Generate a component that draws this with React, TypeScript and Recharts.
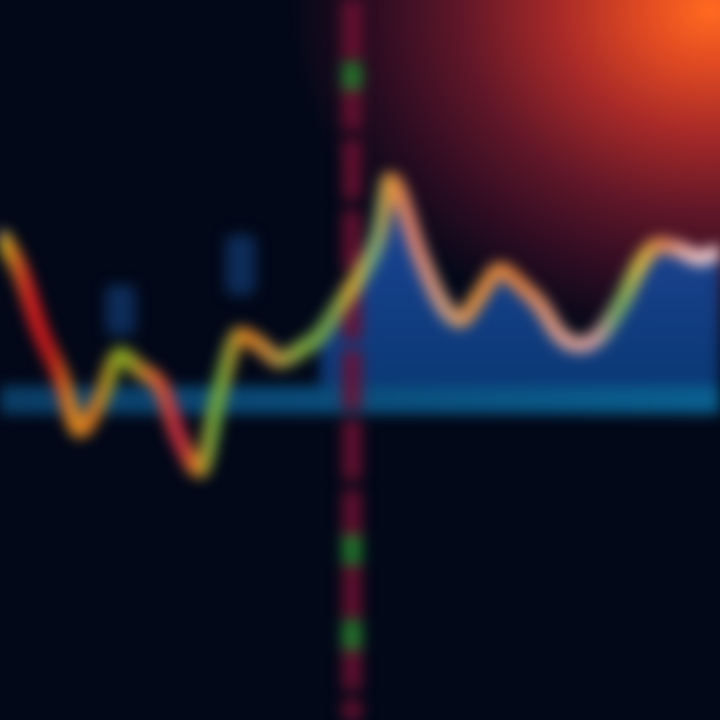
import { ComposedChart, Line, Area, Bar, XAxis, YAxis, ReferenceLine } from 'recharts';

// x positions of the samples and the price level at each one (0 = bottom, 720 = top)
const xs = [0, 20, 40, 60, 80, 100, 120, 140, 160, 180, 200, 220, 240, 260, 280, 300, 320, 340, 360, 380, 390, 420, 440, 460, 480, 500, 520, 540, 560, 580, 600, 620, 640, 660, 680, 700, 720];
const price = [485, 450, 390, 345, 290, 320, 365, 350, 335, 280, 250, 330, 385, 375, 360, 370, 385, 415, 445, 490, 540, 465, 420, 400, 425, 450, 435, 415, 385, 375, 385, 415, 455, 475, 470, 462, 470];
// index from which the blue fill starts
const fillFrom = 16;
// faint wicks: [index, low, high]
const wicks: [number, number, number][] = [
  [6, 385, 435],
  [12, 425, 485],
];
const baseLevel = 320;
const markerX = 352;

const data = xs.map((x, i) => {
  const w = wicks.find((k) => k[0] === i);
  return {
    x,
    price: price[i],
    fill: i >= fillFrom ? price[i] : null,
    wick: w ? [w[1], w[2]] : null,
  };
});

const lineStops: [number, string][] = [
  [0, '#d8d020'],
  [0.04, '#e02020'],
  [0.07, '#c81818'],
  [0.1, '#e09020'],
  [0.13, '#d07020'],
  [0.17, '#80b020'],
  [0.21, '#e07030'],
  [0.25, '#c02040'],
  [0.27, '#e08020'],
  [0.3, '#60b040'],
  [0.34, '#e08020'],
  [0.38, '#c09040'],
  [0.42, '#80b040'],
  [0.46, '#70a050'],
  [0.49, '#e0b030'],
  [0.52, '#70b080'],
  [0.54, '#e09030'],
  [0.57, '#e08070'],
  [0.62, '#d0a080'],
  [0.66, '#e09040'],
  [0.72, '#e08040'],
  [0.78, '#e0a090'],
  [0.83, '#d0a0a0'],
  [0.86, '#70b060'],
  [0.89, '#e0c040'],
  [0.92, '#e08050'],
  [0.96, '#f0c0c0'],
  [1, '#f0d0d0'],
];

const Wick = (props: any) => {
  const { x, y, width, height } = props;
  if (height == null || !width) return null;
  const cx = x + width / 2;
  return <rect x={cx - 15} y={y} width={30} height={height} fill="#0d2c58" rx={8} />;
};

export default function App() {
  return (
    <div
      style={{
        width: 720,
        height: 720,
        overflow: 'hidden',
        background:
          'radial-gradient(ellipse 420px 340px at 710px 10px, #ff6a20 0%, #e04a22 16%, #a82a28 36%, #5e1628 60%, #2e0c22 80%, rgba(2,8,24,0) 100%), #020818',
      }}
    >
      <style>{'body{margin:0}'}</style>
      <div style={{ filter: 'blur(7px)' }}>
        <ComposedChart width={720} height={720} data={data} margin={{ top: 0, right: 0, bottom: 0, left: 0 }}>
          <defs>
            <linearGradient id="lineGrad" x1="0" y1="0" x2="1" y2="0">
              {lineStops.map(([o, c]) => (
                <stop key={o} offset={o} stopColor={c} />
              ))}
            </linearGradient>
            <linearGradient id="areaGrad" x1="0" y1="0" x2="0" y2="1">
              <stop offset="0" stopColor="#1e4aa0" />
              <stop offset="1" stopColor="#0a3a78" />
            </linearGradient>
            <linearGradient id="bandGrad" gradientUnits="userSpaceOnUse" x1="0" y1="0" x2="720" y2="0">
              <stop offset="0" stopColor="#0a3d66" />
              <stop offset="0.4" stopColor="#0a4a78" />
              <stop offset="1" stopColor="#0a6090" />
            </linearGradient>
          </defs>
          <XAxis type="number" dataKey="x" domain={[0, 720]} hide />
          <YAxis type="number" domain={[0, 720]} hide />
          <Area
            dataKey="fill"
            baseValue={baseLevel}
            stroke="none"
            fill="url(#areaGrad)"
            fillOpacity={0.95}
            connectNulls={false}
            isAnimationActive={false}
          />
          <Bar dataKey="wick" barSize={30} shape={Wick} isAnimationActive={false} />
          <ReferenceLine y={baseLevel} stroke="url(#bandGrad)" strokeWidth={28} />
          <ReferenceLine
            segment={[{ x: markerX, y: 720 }, { x: markerX, y: 0 }]}
            stroke="#6e1030"
            strokeWidth={20}
            strokeOpacity={0.85}
            strokeDasharray="60 10"
          />
          <ReferenceLine
            segment={[{ x: markerX, y: 720 }, { x: markerX, y: 0 }]}
            stroke="#1a8a2a"
            strokeWidth={20}
            strokeOpacity={0.8}
            strokeDasharray="0 62 28 445 30 55 30 1000"
          />
          <Line
            dataKey="price"
            type="monotone"
            stroke="url(#lineGrad)"
            strokeWidth={16}
            dot={false}
            isAnimationActive={false}
          />
        </ComposedChart>
      </div>
    </div>
  );
}
